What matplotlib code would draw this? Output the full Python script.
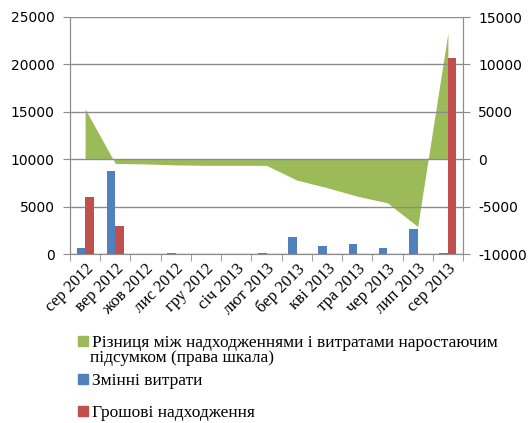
import numpy as np
import matplotlib.pyplot as plt
from matplotlib.patches import Patch
from matplotlib.font_manager import FontProperties

plt.rcParams["axes.unicode_minus"] = False

# Дані
months = ["сер 2012", "вер 2012", "жов 2012", "лис 2012", "гру 2012", "січ 2013",
          "лют 2013", "бер 2013", "кві 2013", "тра 2013", "чер 2013", "лип 2013", "сер 2013"]
costs = [650, 8800, 0, 150, 0, 0, 150, 1750, 800, 1100, 650, 2650, 150]
income = [6000, 3000, 0, 0, 0, 0, 0, 0, 0, 0, 0, 0, 20700]
cum_diff = [5300, -450, -500, -600, -650, -650, -650, -2200, -3000, -3900, -4600, -7100, 13300]

green = "#9bbb59"
blue = "#4f81bd"
red = "#c0504d"
grid_col = "#8c8c8c"

W, H = 529, 423
fig = plt.figure(figsize=(W / 100, H / 100), dpi=100)
ax = fig.add_axes([70 / W, 1 - 254 / H, 393 / W, 237 / H])
ax2 = ax.twinx()

x = np.arange(len(months))
w = 0.28

# Площа різниці на правій шкалі
ax2.fill_between(x, 0, cum_diff, color=green, linewidth=0, zorder=1)
ax2.set_ylim(-10000, 15000)
ax2.set_yticks(range(-10000, 15001, 5000))

# Стовпчики на лівій шкалі
ax.set_zorder(ax2.get_zorder() + 1)
ax.patch.set_visible(False)
ax.bar(x - w / 2, costs, w, color=blue, zorder=3)
ax.bar(x + w / 2, income, w, color=red, zorder=3)
ax.set_ylim(0, 25000)
ax.set_yticks(range(0, 25001, 5000))
ax.set_xlim(-0.5, len(months) - 0.5)
ax.yaxis.grid(True, color=grid_col, linewidth=1)
ax.set_axisbelow(True)

# Осі
ax.set_xticks(x)
ax.set_xticklabels(months, rotation=45, ha="right", rotation_mode="anchor",
                   family="Liberation Serif", fontsize=12)
ax.tick_params(axis="x", length=0, pad=5)
ax.set_xticks(np.arange(-0.5, len(months)), minor=True)
ax.tick_params(axis="x", which="minor", length=5, color=grid_col)
ax.tick_params(axis="y", length=5, color=grid_col, labelsize=10, pad=6)
ax2.tick_params(axis="y", length=5, color=grid_col, labelsize=10, pad=6)

for a in (ax, ax2):
    a.spines["top"].set_visible(False)
    for s in ("left", "right", "bottom"):
        a.spines[s].set_color(grid_col)

# Легенда під графіком: кожен запис окремо, як в Excel
fp = FontProperties(family="Liberation Serif", size=12.5)
entries = [
    (green, "Різниця між надходженнями і витратами наростаючим", 343),
    (blue, "Змінні витрати", 381),
    (red, "Грошові надходження", 413),
]
for col, text, ypx in entries:
    fig.legend(handles=[Patch(color=col, label=text)], loc="center left",
               bbox_to_anchor=(78 / W, 1 - ypx / H), frameon=False, prop=fp,
               handlelength=0.55, handleheight=0.55, handletextpad=0.25,
               borderaxespad=0, borderpad=0)
fig.text(90 / W, 1 - 358 / H, "підсумком (права шкала)", va="center", ha="left",
         fontproperties=fp)

plt.savefig("out.png", dpi=100)
